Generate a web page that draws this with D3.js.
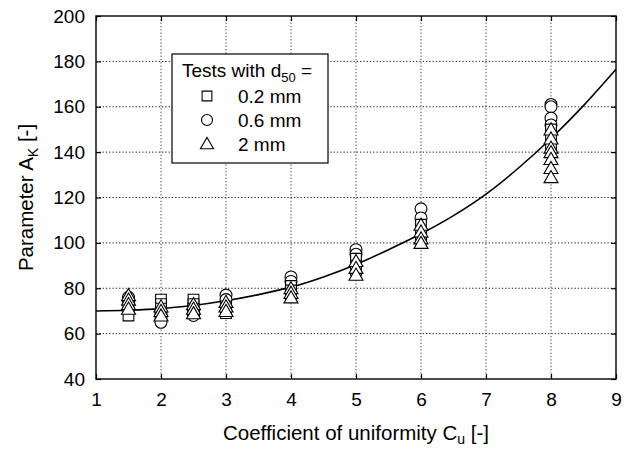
<!DOCTYPE html>
<html><head><meta charset="utf-8">
<script src="https://cdn.jsdelivr.net/npm/d3@7"></script>
<style>
body{margin:0;background:#fff;}
text{font-family:"Liberation Sans",Arial,Helvetica,sans-serif;fill:#000;}
</style></head>
<body><svg id="c" width="632" height="450"></svg>
<script>
// ---- data ----
const xTicks = [1,2,3,4,5,6,7,8,9];
const yTicks = [40,60,80,100,120,140,160,180,200];
// [Cu, A_K] pairs
const squares02 = [[1.5,68],[1.5,72],[2,75],[2,73],[2,71],[2.5,75],[2.5,73],[2.5,71],[3,72],[3,70],[3,69],
  [4,81],[4,79],[4,77],[5,93],[5,90],[5,88],[6,108],[6,104],[6,102],[8,150],[8,146],[8,143]];
const circles06 = [[1.5,76],[1.5,74],[2,69],[2,67],[2,65],[2.5,70],[2.5,68],[3,77],[3,75],
  [4,85],[4,83],[5,97],[5,95],[6,115],[6,111],[8,161],[8,160],[8,155],[8,152]];
const triangles2 = [[1.5,77],[1.5,75],[1.5,73],[1.5,71],[2,72],[2,70],[2,68],[2.5,73],[2.5,71],[2.5,69],
  [3,74],[3,72],[3,70],[4,80],[4,78],[4,76],[5,92],[5,89],[5,86],[6,108],[6,105],[6,102],[6,100],
  [8,150],[8,146],[8,142],[8,140],[8,137],[8,133],[8,129]];
// fitted curve, points
const curveCu = [1,1.5,2,2.5,3,3.5,4,4.5,5,5.5,6,6.5,7,7.5,8,8.5,9];
const curveAK = [70,70.3,71,72.5,74.5,77.2,80.5,85,90.5,97,104,112,121.5,133,146,160.5,176.5];
const legendLabels = ["0.2 mm","0.6 mm","2 mm"];

// ---- layout ----
const svg = d3.select("#c");
const L=96, R=616, T=16, B=379;
const x = d3.scaleLinear().domain([1,9]).range([L,R]);
const y = d3.scaleLinear().domain([40,200]).range([B,T]);

// grid
const g = svg.append("g");
g.selectAll(".vg").data(xTicks.slice(1,-1)).enter().append("line")
  .attr("x1",d=>x(d)).attr("x2",d=>x(d)).attr("y1",T).attr("y2",B)
  .attr("stroke","#444").attr("stroke-width",1).attr("stroke-dasharray","1.3,2");
g.selectAll(".hg").data(yTicks.slice(1,-1)).enter().append("line")
  .attr("y1",d=>y(d)).attr("y2",d=>y(d)).attr("x1",L).attr("x2",R)
  .attr("stroke","#222").attr("stroke-width",1).attr("stroke-dasharray","1.3,2");

// axes (ticks inward on all four sides)
const fs = 19;
const axB = d3.axisBottom(x).tickValues(xTicks).tickSizeInner(-5).tickSizeOuter(0).tickPadding(14);
const axT = d3.axisTop(x).tickValues(xTicks).tickSizeInner(-5).tickSizeOuter(0).tickFormat("");
const axLf = d3.axisLeft(y).tickValues(yTicks).tickSizeInner(-5).tickSizeOuter(0).tickPadding(11);
const axRt = d3.axisRight(y).tickValues(yTicks).tickSizeInner(-5).tickSizeOuter(0).tickFormat("");
function style(sel){sel.select(".domain").remove();sel.selectAll("line").attr("stroke","#000").attr("stroke-width",1.2);
  sel.selectAll("text").style("font-size",fs+"px").attr("font-family","Liberation Sans, Arial, sans-serif");}
svg.append("g").attr("transform",`translate(0,${B})`).call(axB).call(style);
svg.append("g").attr("transform",`translate(0,${T})`).call(axT).call(style);
svg.append("g").attr("transform",`translate(${L},0)`).call(axLf).call(style);
svg.append("g").attr("transform",`translate(${R},0)`).call(axRt).call(style);

// frame
svg.append("rect").attr("x",L).attr("y",T).attr("width",R-L).attr("height",B-T)
  .attr("fill","none").attr("stroke","#000").attr("stroke-width",1.4);

// curve
const line = d3.line().x(d=>x(d[0])).y(d=>y(d[1])).curve(d3.curveMonotoneX);
svg.append("path").datum(curveCu.map((c,i)=>[c,curveAK[i]]))
  .attr("d",line).attr("fill","none").attr("stroke","#000").attr("stroke-width",1.6);

// markers
const sym = {
  square: d3.symbol().type(d3.symbolSquare).size(115),
  circle: d3.symbol().type(d3.symbolCircle).size(112),
  triangle: d3.symbol().type(d3.symbolTriangle).size(85)
};
function plot(data, s, dy){
  svg.append("g").selectAll("path").data(data).enter().append("path")
    .attr("d",sym[s]).attr("transform",d=>`translate(${x(d[0])},${y(d[1])+(dy||0)})`)
    .attr("fill","#fff").attr("stroke","#000").attr("stroke-width",1.1);
}
plot(circles06,"circle");
plot(squares02,"square");
plot(triangles2,"triangle",1.5);

// legend
const lg = svg.append("g");
lg.append("rect").attr("x",172).attr("y",54).attr("width",156).attr("height",109)
  .attr("fill","#fff").attr("stroke","#000").attr("stroke-width",1.2);
const tt = lg.append("text").attr("x",182).attr("y",77).style("font-size",fs+"px");
tt.append("tspan").text("Tests with d");
tt.append("tspan").text("50").style("font-size","13px").attr("dy",5);
tt.append("tspan").text(" =").attr("dy",-5);
const lsym = [d3.symbol().type(d3.symbolSquare).size(95),d3.symbol().type(d3.symbolCircle).size(95),d3.symbol().type(d3.symbolTriangle).size(75)];
legendLabels.forEach((t,i)=>{
  const yy = 96 + i*24;
  lg.append("path").attr("d",lsym[i]).attr("transform",`translate(207,${yy+(i==2?1:0)})`)
    .attr("fill","#fff").attr("stroke","#000").attr("stroke-width",1.1);
  lg.append("text").attr("x",238).attr("y",yy+7).style("font-size",fs+"px").text(t);
});

// axis titles
const tfs = 20.5;
const xt = svg.append("text").attr("x",(L+R)/2).attr("y",440).attr("text-anchor","middle").style("font-size",tfs+"px");
xt.append("tspan").text("Coefficient of uniformity C");
xt.append("tspan").text("u").style("font-size","14px").attr("dy",4);
xt.append("tspan").text(" [-]").attr("dy",-4);
const yt = svg.append("text").attr("transform",`translate(33,${(T+B)/2}) rotate(-90)`).attr("text-anchor","middle").style("font-size",tfs+"px");
yt.append("tspan").text("Parameter A");
yt.append("tspan").text("K").style("font-size","14px").attr("dy",5);
yt.append("tspan").text(" [-]").attr("dy",-5);
</script></body></html>
